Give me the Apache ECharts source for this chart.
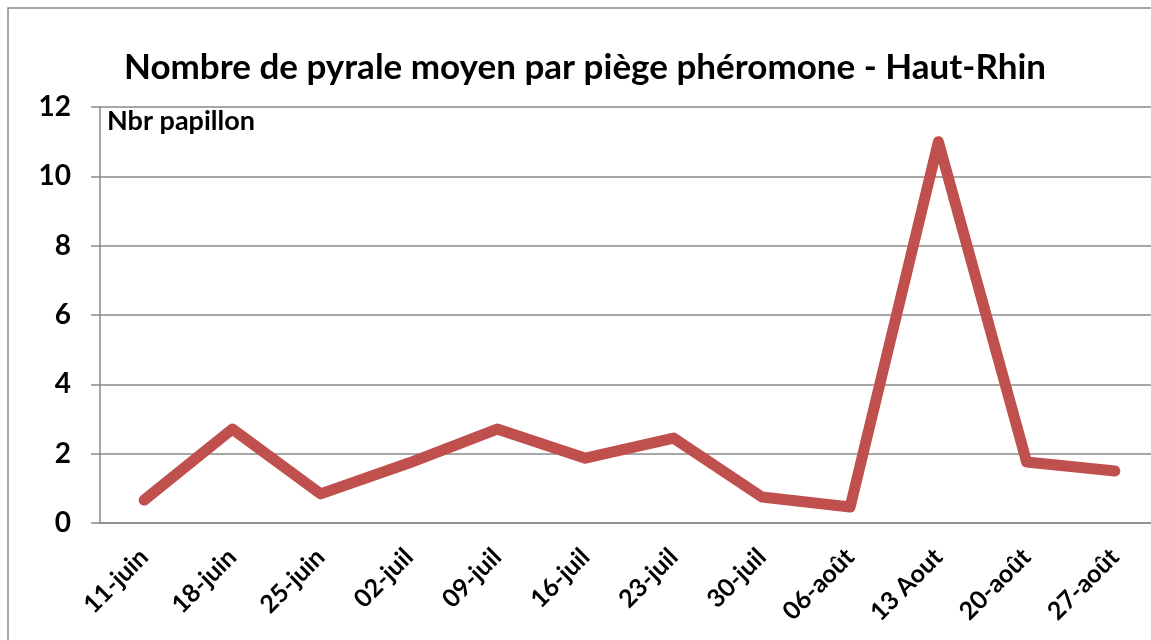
<!doctype html>
<html lang="fr">
<head>
    <meta charset="UTF-8">
    <title>Nombre de pyrale moyen par piège phéromone - Haut-Rhin</title>
    <script type="text/javascript" src="https://cdn.jsdelivr.net/npm/echarts@6/dist/echarts.min.js"></script>
    <style>
        html, body { margin: 0; padding: 0; background: #fff; overflow: hidden; }
        /* plus large que la fenêtre : la zone de tracé déborde à droite */
        #chart { width: 1175px; height: 640px; }
    </style>
</head>
<body>
<div id="chart"></div>
<script>
    // dates de relevé
    var categories = ['11-juin', '18-juin', '25-juin', '02-juil', '09-juil', '16-juil',
        '23-juil', '30-juil', '06-août', '13 Aout', '20-août', '27-août'];
    // nombre moyen de papillons par piège
    var papillons = [0.66, 2.71, 0.84, 1.73, 2.71, 1.87, 2.45, 0.75, 0.46, 11, 1.76, 1.5];
    var yTicks = [0, 2, 4, 6, 8, 10, 12];

    var fontFam = 'Lato, "Open Sans", sans-serif';
    var gris = '#8a8a8a';

    var chart = echarts.init(document.getElementById('chart'));
    chart.setOption({
        animation: false,
        title: {
            text: 'Nombre de pyrale moyen par piège phéromone - Haut-Rhin',
            left: 580,
            top: 45,
            textAlign: 'center',
            textStyle: { fontFamily: fontFam, fontWeight: 'bold', fontSize: 35, color: '#000' }
        },
        graphic: [
            { //cadre
                type: 'rect',
                shape: { x: 8, y: 8, width: 1160, height: 650 },
                style: { fill: 'none', stroke: gris, lineWidth: 1.5 },
                silent: true
            },
            {
                type: 'text',
                left: 107,
                top: 108,
                style: { text: 'Nbr papillon', font: 'bold 27px ' + fontFam, fill: '#000' }
            }
        ],
        grid: { left: 100, top: 107, right: 16, bottom: 117, containLabel: false },
        xAxis: {
            type: 'category',
            data: categories,
            boundaryGap: true,
            axisLine: { lineStyle: { color: gris, width: 1.5 } },
            axisTick: {
                length: 10,
                lineStyle: { color: gris, width: 1.5 },
                interval: function (i) { return i % 7 === 0; }
            },
            axisLabel: {
                interval: 0,
                rotate: 45,
                margin: 30,
                fontFamily: fontFam,
                fontWeight: 'bold',
                fontSize: 25,
                color: '#000'
            }
        },
        yAxis: {
            type: 'value',
            min: yTicks[0],
            max: yTicks[yTicks.length - 1],
            interval: 2,
            axisLine: { show: true, lineStyle: { color: gris, width: 1.5 } },
            axisTick: { show: true, length: 9, lineStyle: { color: gris, width: 1.5 } },
            splitLine: { lineStyle: { color: gris, width: 1.5 } },
            axisLabel: {
                margin: 29,
                fontFamily: fontFam,
                fontWeight: 'bold',
                fontSize: 28,
                color: '#000'
            }
        },
        series: [{
            type: 'line',
            data: papillons,
            showSymbol: false,
            symbol: 'none',
            lineStyle: { color: '#c0504d', width: 11, cap: 'round', join: 'round' }
        }]
    });
</script>
</body>
</html>
